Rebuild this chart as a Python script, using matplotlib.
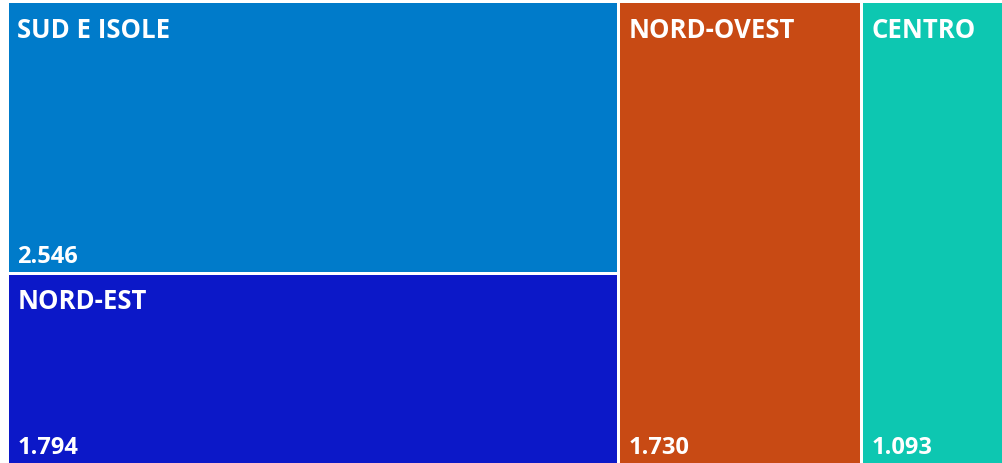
import matplotlib.pyplot as plt
from matplotlib.patches import Rectangle

# dati
regioni = ['SUD E ISOLE', 'NORD-EST', 'NORD-OVEST', 'CENTRO']
valori = [2546, 1794, 1730, 1093]
colori = ['#007BCA', '#0C18C8', '#C84A14', '#0DC7B1']
# raggruppamento in colonne del treemap (indici)
colonne = [[0, 1], [2], [3]]

plt.rcParams['font.family'] = ['Open Sans', 'DejaVu Sans']

gap = 3.0
# area del treemap in pixel (l'ultima colonna esce un po' dal bordo)
x0, y0 = 9 - gap / 2, 3 - gap / 2
W, H = 1005.0 + gap, 460.0 + gap

fig = plt.figure(figsize=(10.03, 4.63), dpi=100)
ax = fig.add_axes([0, 0, 1, 1])
ax.set_xlim(0, 1003)
ax.set_ylim(463, 0)
ax.axis('off')

totale = sum(valori)
x = x0
for col in colonne:
    somma = sum(valori[i] for i in col)
    larg = W * somma / totale
    y = y0
    for i in col:
        alt = H * valori[i] / somma
        ax.add_patch(Rectangle((x + gap / 2, y + gap / 2), larg - gap, alt - gap,
                               facecolor=colori[i], edgecolor='none'))
        ax.text(x + gap / 2 + 8.5, y + gap / 2 + 13.5, regioni[i], color='white', fontsize=18.5,
                fontweight='bold', ha='left', va='top')
        ax.text(x + gap / 2 + 8.5, y + alt - gap / 2 - 9, f'{valori[i]:,}'.replace(',', '.'),
                color='white', fontsize=17, fontweight='bold', ha='left', va='baseline')
        y += alt
    x += larg

fig.savefig('out.png', dpi=100)
